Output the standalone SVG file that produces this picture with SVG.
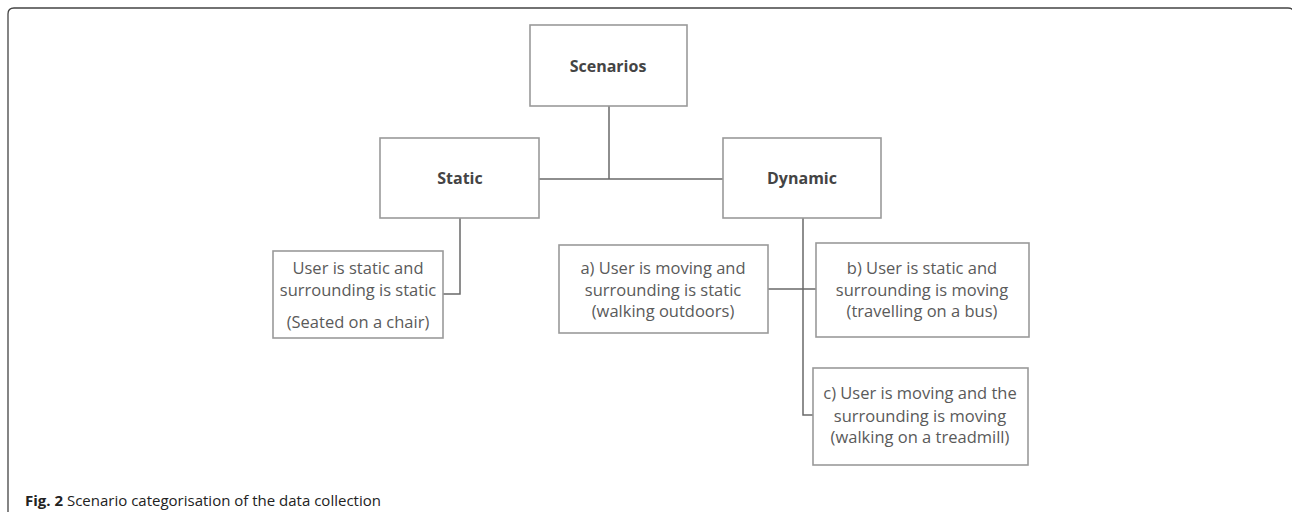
<svg xmlns="http://www.w3.org/2000/svg" width="1292" height="512" viewBox="0 0 1292 512">
<style>
.box{fill:#fff;stroke:#9a9a9a;stroke-width:1.6}
.t{font-family:"Open Sans","Liberation Sans",sans-serif;font-size:16.5px;fill:#5a5a5a;text-anchor:middle}
.h{font-family:"Open Sans","Liberation Sans",sans-serif;font-size:16px;font-weight:bold;fill:#444;text-anchor:middle}
.c{fill:none;stroke:#6a6a6a;stroke-width:1.5}
.cap{font-family:"Open Sans","Noto Sans",sans-serif;font-size:15px;fill:#222}
</style>
<rect width="1292" height="512" fill="#fff"/>
<path d="M8,512 V14 Q8,8 14,8 H1288 Q1294,8 1294,14 V520" fill="none" stroke="#444" stroke-width="1.3"/>
<g id="connectors">
<path class="c" d="M609,106 V179 M539,179 H723"/>
<path class="c" d="M460,218 V294 H443"/>
<path class="c" d="M803,218 V415 H813 M768,289 H816"/>
</g>
<g id="scenarios"><rect class="box" x="530" y="25" width="157" height="81"/><text class="h" x="608" y="72">Scenarios</text></g>
<g id="static"><rect class="box" x="380" y="138" width="159" height="80"/><text class="h" x="460" y="184">Static</text></g>
<g id="dynamic"><rect class="box" x="723" y="138" width="158" height="80"/><text class="h" x="802" y="184">Dynamic</text></g>
<g id="static-child"><rect class="box" x="273" y="251" width="170" height="87"/>
<text class="t" x="358" y="274">User is static and</text>
<text class="t" x="358" y="296">surrounding is static</text>
<text class="t" x="358" y="328">(Seated on a chair)</text></g>
<g id="dyn-a"><rect class="box" x="559" y="245" width="209" height="88"/>
<text class="t" x="663" y="274">a) User is moving and</text>
<text class="t" x="663" y="296">surrounding is static</text>
<text class="t" x="663" y="317">(walking outdoors)</text></g>
<g id="dyn-b"><rect class="box" x="816" y="243" width="213" height="94"/>
<text class="t" x="922" y="274">b) User is static and</text>
<text class="t" x="922" y="296">surrounding is moving</text>
<text class="t" x="922" y="317">(travelling on a bus)</text></g>
<g id="dyn-c"><rect class="box" x="813" y="368" width="215" height="97"/>
<text class="t" x="920" y="399">c) User is moving and the</text>
<text class="t" x="920" y="422">surrounding is moving</text>
<text class="t" x="920" y="443">(walking on a treadmill)</text></g>
<text class="cap" x="25" y="506"><tspan font-weight="bold">Fig. 2</tspan> Scenario categorisation of the data collection</text>
</svg>
